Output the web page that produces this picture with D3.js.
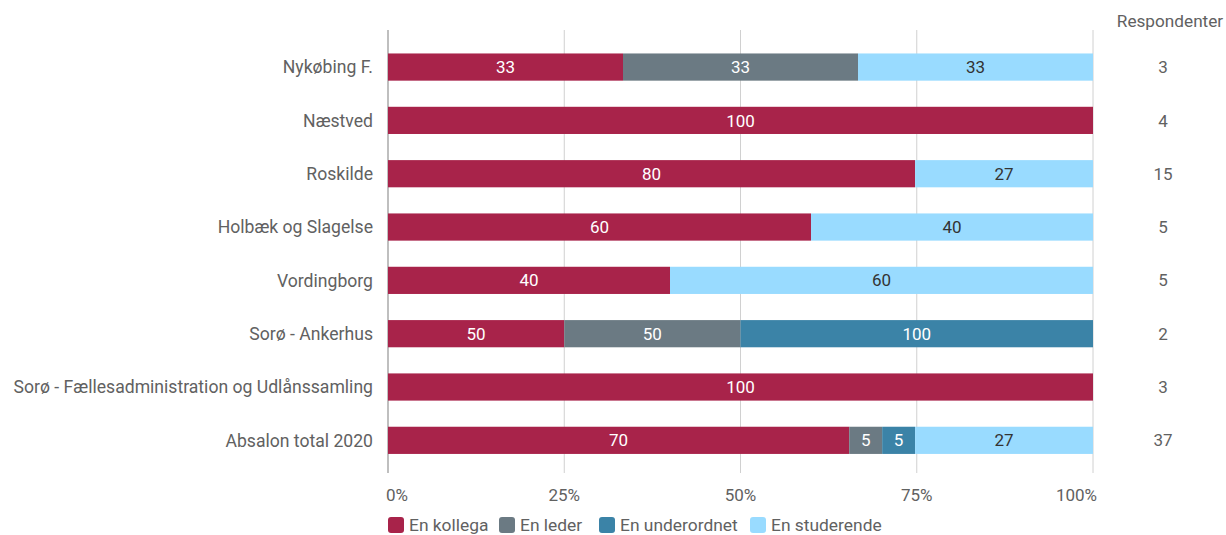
<!DOCTYPE html>
<html><head><meta charset="utf-8">
<script src="https://cdn.jsdelivr.net/npm/d3@7"></script>
<style>body{margin:0;background:#fff;}text{font-family:Roboto,sans-serif;}</style>
</head><body>
<svg id="c" width="1226" height="535"></svg>
<script>
const categories = ["Nykøbing F.","Næstved","Roskilde","Holbæk og Slagelse","Vordingborg","Sorø - Ankerhus","Sorø - Fællesadministration og Udlånssamling","Absalon total 2020"];
const seriesNames = ["En kollega","En leder","En underordnet","En studerende"];
const kollega = [33,100,80,60,40,50,100,70];
const leder = [33,0,0,0,0,50,0,5];
const underordnet = [0,0,0,0,0,100,0,5];
const studerende = [33,0,27,40,60,0,0,27];
const respondenter = [3,4,15,5,5,2,3,37];
const tickLabels = ["0%","25%","50%","75%","100%"];
const colors = ["#a8234a","#6b7a83","#3b83a7","#99dbff"];
const textColors = ["#fff","#fff","#fff","#333"];

const svg = d3.select("#c");
const x = d3.scaleLinear().domain([0,1]).range([388,1093]);
const y = d3.scaleBand().domain(categories).range([40.4,467]).paddingInner(0.49).paddingOuter(0.245);

const rows = categories.map((c,i)=>({cat:c, vals:[kollega[i],leder[i],underordnet[i],studerende[i]]}));
rows.forEach(r=>{r.sum=d3.sum(r.vals);});

// grid
svg.append("g").selectAll("line").data([0,0.25,0.5,0.75,1]).join("line")
  .attr("x1",d=>x(d)).attr("x2",d=>x(d)).attr("y1",30).attr("y2",473)
  .attr("stroke",(d,i)=>i===0?"#aaa":"#d0d0d0").attr("stroke-width",(d,i)=>i===0?1.5:1);

// bars
const segs=[];
rows.forEach(r=>{let acc=0;r.vals.forEach((v,k)=>{if(v>0){segs.push({cat:r.cat,k,v,x0:acc/r.sum,x1:(acc+v)/r.sum});}acc+=v;});});
const g=svg.append("g");
g.selectAll("rect").data(segs).join("rect")
  .attr("x",d=>x(d.x0)).attr("width",d=>x(d.x1)-x(d.x0))
  .attr("y",d=>y(d.cat)).attr("height",y.bandwidth())
  .attr("fill",d=>colors[d.k]);
g.selectAll("text").data(segs).join("text")
  .attr("x",d=>(x(d.x0)+x(d.x1))/2).attr("y",d=>y(d.cat)+y.bandwidth()/2)
  .attr("dy","0.36em").attr("text-anchor","middle").attr("font-size",17)
  .attr("fill",d=>textColors[d.k]).text(d=>d.v);

// category labels
svg.append("g").selectAll("text").data(categories).join("text")
  .attr("x",373).attr("y",d=>y(d)+y.bandwidth()/2).attr("dy","0.36em")
  .attr("text-anchor","end").attr("font-size",17.6).attr("fill","#616161").text(d=>d);

// respondenter
svg.append("text").attr("x",1170).attr("y",21).attr("dy","0.36em").attr("text-anchor","middle")
  .attr("font-size",17.2).attr("fill","#616161").text("Respondenter");
svg.append("g").selectAll("text").data(respondenter).join("text")
  .attr("x",1163).attr("y",(d,i)=>y(categories[i])+y.bandwidth()/2).attr("dy","0.36em")
  .attr("text-anchor","middle").attr("font-size",17).attr("fill","#616161").text(d=>d);

// x ticks
svg.append("g").selectAll("text").data(tickLabels).join("text")
  .attr("x",(d,i)=>i===0?x(0)-2:i===4?x(1)+4:x(i/4))
  .attr("y",495).attr("dy","0.36em")
  .attr("text-anchor",(d,i)=>i===0?"start":i===4?"end":"middle")
  .attr("font-size",17).attr("fill","#616161").text(d=>d);

// legend
const legX=[388,499,599,750];
const lg=svg.append("g").selectAll("g").data(seriesNames).join("g")
  .attr("transform",(d,i)=>`translate(${legX[i]},525)`);
lg.append("rect").attr("x",0).attr("y",-8).attr("width",16).attr("height",16).attr("rx",3)
  .attr("fill",(d,i)=>colors[i]);
lg.append("text").attr("x",21).attr("y",0).attr("dy","0.36em").attr("font-size",17.4)
  .attr("fill","#616161").text(d=>d);
</script>
</body></html>
